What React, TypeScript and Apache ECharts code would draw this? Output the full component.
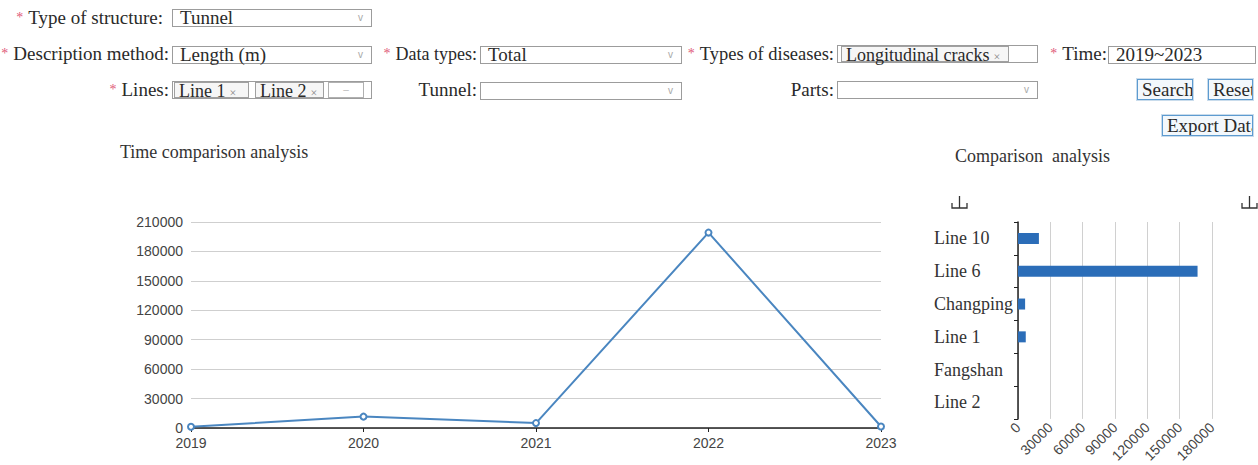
import React, { useEffect, useRef } from "react";
import * as echarts from "echarts";

// ---- data ----
const years = ["2019", "2020", "2021", "2022", "2023"];
const yearValues = [1200, 11600, 5000, 199200, 1500];
const lineCategories = ["Line 2", "Fangshan", "Line 1", "Changping", "Line 6", "Line 10"];
const lineValues = [0, 0, 7200, 6600, 166600, 19400];
const timeAxisMax = 210000;
const compareAxisMax = 180000;
const axisStep = 30000;
const lineTitle = "Time comparison analysis";
const barTitle = "Comparison  analysis";

const W = 1258;
const SERIF = '"Liberation Serif", "Times New Roman", serif';
const SANS = '"Liberation Sans", Arial, sans-serif';
const TEXT = "#2a2a2a";
const FS = 19;

function Label({
  right,
  top,
  text,
  star,
  size = FS,
}: {
  right: number;
  top: number;
  text: string;
  star?: boolean;
  size?: number;
}) {
  return (
    <div
      style={{
        position: "absolute",
        right: W - right,
        top,
        fontFamily: SERIF,
        fontSize: size,
        lineHeight: "20px",
        color: TEXT,
        whiteSpace: "nowrap",
      }}
    >
      {star && (
        <span style={{ color: "#e05a78", fontSize: 14, marginRight: 5, position: "relative", top: -2 }}>*</span>
      )}
      {text}
    </div>
  );
}

function Box({
  left,
  top,
  width,
  height = 18,
  text,
  chevron,
  children,
}: {
  left: number;
  top: number;
  width: number;
  height?: number;
  text?: string;
  chevron?: boolean;
  children?: React.ReactNode;
}) {
  return (
    <div
      style={{
        position: "absolute",
        left,
        top,
        width,
        height,
        boxSizing: "border-box",
        border: "1px solid #9c9c9c",
        background: "#fff",
      }}
    >
      {text && (
        <div
          style={{
            position: "absolute",
            left: 7,
            top: -2,
            fontFamily: SERIF,
            fontSize: FS,
            lineHeight: "20px",
            color: TEXT,
            whiteSpace: "nowrap",
          }}
        >
          {text}
        </div>
      )}
      {chevron && (
        <div
          style={{
            position: "absolute",
            right: 8,
            top: 1,
            fontFamily: SANS,
            fontSize: 10,
            lineHeight: "14px",
            color: "#a8a8a8",
          }}
        >
          v
        </div>
      )}
      {children}
    </div>
  );
}

function Tag({ left, width, text }: { left: number; width: number; text: string }) {
  return (
    <div
      style={{
        position: "absolute",
        left,
        top: 0,
        width,
        height: 16,
        boxSizing: "border-box",
        border: "1px solid #a0a0a0",
        background: "#f6f6f6",
        fontFamily: SERIF,
        fontSize: 18,
        lineHeight: "16px",
        color: TEXT,
        whiteSpace: "nowrap",
        paddingLeft: 4,
      }}
    >
      {text}
      <span style={{ fontSize: 12, color: "#888", marginLeft: 4 }}>×</span>
    </div>
  );
}

function Button({ left, top, width, text }: { left: number; top: number; width: number; text: string }) {
  return (
    <div
      style={{
        position: "absolute",
        left,
        top,
        width,
        height: 21,
        boxSizing: "border-box",
        border: "1px solid #5d9bd0",
        outline: "1px solid #c9dcec",
        background: "#f3f8fc",
        fontFamily: SERIF,
        fontSize: FS,
        lineHeight: "19px",
        color: TEXT,
        whiteSpace: "nowrap",
        overflow: "hidden",
        paddingLeft: 4,
      }}
    >
      {text}
    </div>
  );
}

const plain = (v: number) => String(v);

export default function App() {
  const ref = useRef<HTMLDivElement>(null);

  useEffect(() => {
    document.body.style.overflow = "hidden";
    if (!ref.current) return;
    const chart = echarts.init(ref.current, undefined, { renderer: "svg" });
    const iconStyle = { stroke: "#333", lineWidth: 1.3, fill: "none" };
    const icon = (x: number, y: number) => ({
      type: "group",
      x,
      y,
      children: [
        { type: "polyline", shape: { points: [[0, 7], [0, 12], [15, 12], [15, 7]] }, style: iconStyle },
        { type: "line", shape: { x1: 7.5, y1: 0, x2: 7.5, y2: 12 }, style: iconStyle },
      ],
    });
    chart.setOption({
      animation: false,
      title: [
        {
          text: lineTitle,
          left: 120,
          top: 143,
          padding: 0,
          textStyle: { fontFamily: SERIF, fontSize: 18, fontWeight: "normal", color: "#333" },
        },
        {
          text: barTitle,
          left: 955,
          top: 147,
          padding: 0,
          textStyle: { fontFamily: SERIF, fontSize: 18, fontWeight: "normal", color: "#333" },
        },
      ],
      graphic: [icon(952, 196), icon(1242, 196)],
      grid: [
        { left: 191, top: 222, width: 690, height: 206 },
        { left: 1018, top: 222, width: 194, height: 206 },
      ],
      xAxis: [
        {
          gridIndex: 0,
          type: "category",
          data: years,
          boundaryGap: false,
          axisLine: { lineStyle: { color: "#222", width: 1.5 } },
          axisTick: { show: true, length: 4, lineStyle: { color: "#222" } },
          axisLabel: { fontFamily: SANS, fontSize: 14, color: "#444", margin: 8 },
          splitLine: { show: false },
        },
        {
          gridIndex: 1,
          type: "value",
          min: 0,
          max: compareAxisMax,
          interval: axisStep,
          axisLine: { show: false },
          axisTick: { show: false },
          axisLabel: { fontFamily: SANS, fontSize: 14, color: "#444", rotate: 45, margin: 6, formatter: plain },
          splitLine: { show: true, lineStyle: { color: "#d0d0d0" } },
        },
      ],
      yAxis: [
        {
          gridIndex: 0,
          type: "value",
          min: 0,
          max: timeAxisMax,
          interval: axisStep,
          axisLine: { show: false },
          axisTick: { show: false },
          axisLabel: { fontFamily: SANS, fontSize: 14, color: "#444", margin: 8, formatter: plain },
          splitLine: { show: true, lineStyle: { color: "#cfcfcf" } },
        },
        {
          gridIndex: 1,
          type: "category",
          data: lineCategories,
          axisLine: { show: true, lineStyle: { color: "#222", width: 1.5 } },
          axisTick: { show: true, length: 4, lineStyle: { color: "#222" } },
          axisLabel: { fontFamily: SERIF, fontSize: 18, color: "#333", align: "left", margin: 84 },
          splitLine: { show: false },
        },
      ],
      series: [
        {
          type: "line",
          xAxisIndex: 0,
          yAxisIndex: 0,
          data: yearValues,
          symbol: "emptyCircle",
          symbolSize: 6,
          lineStyle: { color: "#4a86c0", width: 2 },
          itemStyle: { color: "#4a86c0", borderWidth: 1.5 },
        },
        {
          type: "bar",
          xAxisIndex: 1,
          yAxisIndex: 1,
          data: lineValues,
          barWidth: 11,
          itemStyle: { color: "#2b6db8" },
        },
      ],
    });
    return () => chart.dispose();
  }, []);

  return (
    <div style={{ position: "absolute", left: 0, top: 0, width: W, height: 465, overflow: "hidden", background: "#fff" }}>
      <div ref={ref} style={{ position: "absolute", left: 0, top: 0, width: W, height: 465 }} />
      {/* Row 1 */}
      <Label right={163} top={8} text="Type of structure:" star />
      <Box left={172} top={9} width={200} text="Tunnel" chevron />
      {/* Row 2 */}
      <Label right={169} top={44} text="Description method:" star />
      <Box left={172} top={46} width={200} text="Length (m)" chevron />
      <Label right={477} top={44} text="Data types:" star size={18} />
      <Box left={480} top={46} width={202} text="Total" chevron />
      <Label right={834} top={44} text="Types of diseases:" star size={18.5} />
      <Box left={837} top={45} width={201}>
        <Tag left={3} width={168} text="Longitudinal cracks" />
      </Box>
      <Label right={1107} top={44} text="Time:" star />
      <Box left={1108} top={46} width={148} text="2019~2023" />
      {/* Row 3 */}
      <Label right={169} top={80} text="Lines:" star />
      <Box left={172} top={81} width={200}>
        <Tag left={1} width={75} text="Line 1" />
        <Tag left={82} width={69} text="Line 2" />
        <div
          style={{
            position: "absolute",
            left: 155,
            top: 0,
            width: 36,
            height: 16,
            boxSizing: "border-box",
            border: "1px solid #b0b0b0",
            textAlign: "center",
            fontSize: 10,
            lineHeight: "14px",
            color: "#bbb",
            fontFamily: SANS,
          }}
        >
          –
        </div>
      </Box>
      <Label right={477} top={80} text="Tunnel:" />
      <Box left={480} top={82} width={202} chevron />
      <Label right={834} top={80} text="Parts:" />
      <Box left={837} top={81} width={201} chevron />
      <Button left={1137} top={79} width={56} text="Search" />
      <Button left={1208} top={79} width={45} text="Reset" />
      {/* Row 4 */}
      <Button left={1162} top={115} width={91} text="Export Data" />
    </div>
  );
}
